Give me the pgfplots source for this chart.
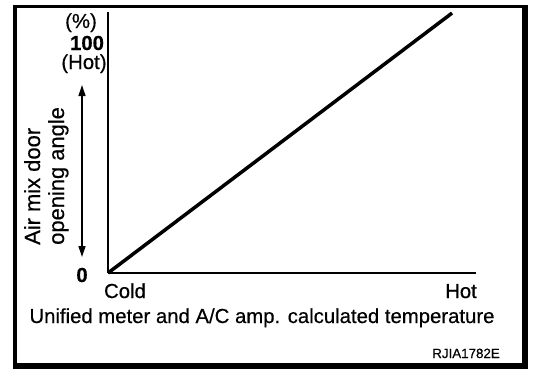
\documentclass[border=0pt]{standalone}
\usepackage{fontspec}
\setmainfont{Liberation Sans}[FakeBold=0.4]
\usepackage{pgfplots}
\pgfplotsset{compat=1.18}
\usetikzlibrary{arrows.meta}
\begin{document}
\begin{tikzpicture}[x=1bp,y=1bp]
\path[use as bounding box] (0,0) rectangle (560,382);
\fill[black] (13,13) rectangle (527.5,377);
\fill[white] (16.5,19.5) rectangle (521.5,373.5);
\begin{axis}[at={(108bp,109bp)}, anchor=south west, scale only axis,
  width=368bp, height=261bp, xmin=0, xmax=100, ymin=0, ymax=100,
  axis x line*=bottom, axis y line*=left, xtick=\empty, ytick=\empty,
  axis line style={line width=2bp, black}, clip=false]
\addplot[black, line width=3.5bp, line cap=butt] coordinates {(0,0) (93.5,99.6)};
\end{axis}
\tikzset{lbl/.style={font=\fontsize{20.4}{24}\selectfont, inner sep=0pt}}
\node[lbl, anchor=base] at (81,354) {(\%)};
\node[lbl, anchor=base, font=\fontsize{20.4}{24}\selectfont\bfseries] at (87,332) {100};
\node[lbl, anchor=base] at (84,313) {(Hot)};
\draw[line width=1.3bp, {Triangle[width=7bp,length=11bp]}-{Triangle[width=7bp,length=11bp]}] (82,297) -- (82,125);
\node[lbl, anchor=base, font=\fontsize{20.4}{24}\selectfont\bfseries] at (82,100) {0};
\node[lbl, anchor=base] at (125,84) {Cold};
\node[lbl, anchor=base] at (461,84) {Hot};
\node[lbl, anchor=base] at (262,59) {Unified meter and A/C amp. calculated temperature};
\node[inner sep=0pt, anchor=base east, font=\fontsize{13.4}{15}\selectfont] at (500,24) {RJIA1782E};
\node[lbl, rotate=90, anchor=base west, font=\fontsize{22}{26}\selectfont] at (40,137) {Air mix door};
\node[lbl, rotate=90, anchor=base west, font=\fontsize{22}{26}\selectfont] at (64,137) {opening angle};
\end{tikzpicture}
\end{document}
